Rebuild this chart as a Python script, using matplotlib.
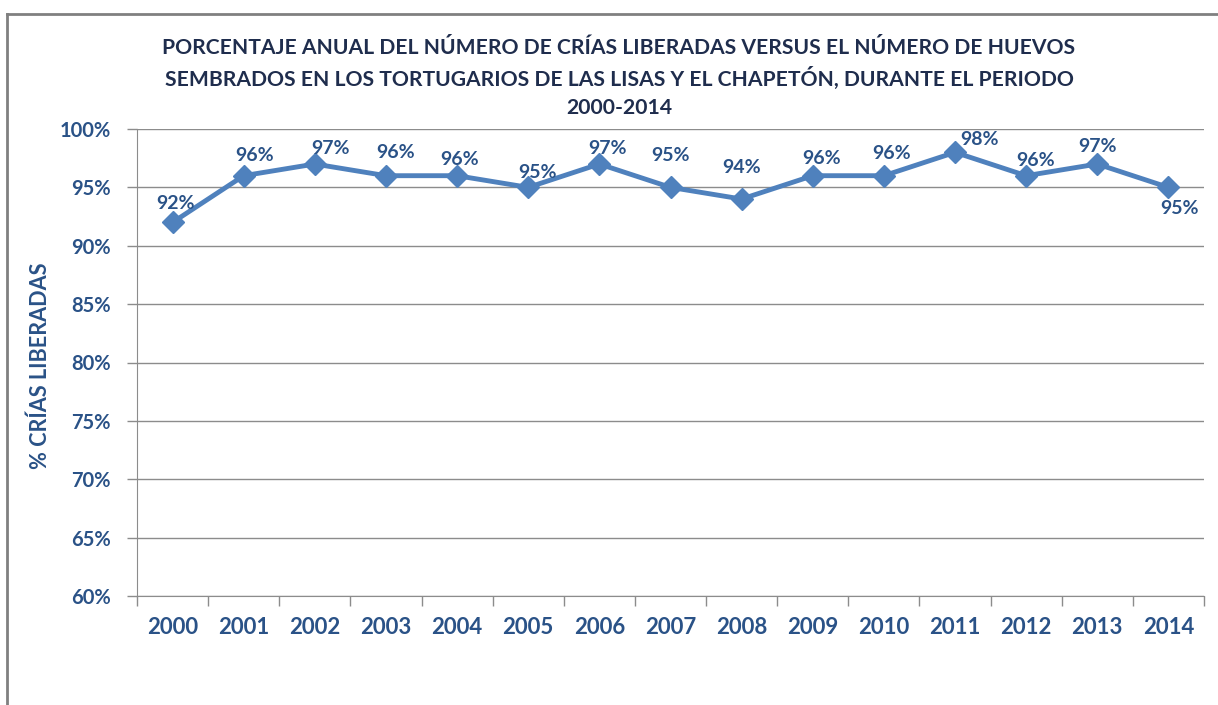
import matplotlib
matplotlib.use("Agg")
import matplotlib.pyplot as plt
from matplotlib.ticker import FuncFormatter, MultipleLocator, FixedLocator
from matplotlib.lines import Line2D

years = ["2000", "2001", "2002", "2003", "2004", "2005", "2006", "2007",
         "2008", "2009", "2010", "2011", "2012", "2013", "2014"]
pct = [92, 96, 97, 96, 96, 95, 97, 95, 94, 96, 96, 98, 96, 97, 95]

title_lines = ["PORCENTAJE ANUAL DEL NÚMERO DE CRÍAS LIBERADAS VERSUS EL NÚMERO DE HUEVOS",
               "SEMBRADOS EN LOS TORTUGARIOS DE LAS LISAS Y EL CHAPETÓN, DURANTE EL PERIODO",
               "2000-2014"]
ylabel = "% CRÍAS LIBERADAS"

# label offsets in pixels (dx, dy)
label_offsets = [(3, 19), (11, 20), (16, 16), (10, 23), (2, 16), (9, 15), (8, 16),
                 (0, 32), (0, 32), (9, 17), (8, 22), (24, 13), (9, 15), (0, 18), (11, -21)]

plt.rcParams['font.family'] = ['Lato', 'DejaVu Sans']
plt.rcParams['font.weight'] = 'bold'

LINE = "#4F81BD"
TXT = "#2A5287"
TITLE = "#1F2D4D"
GRID = "#8C8C8C"

fig = plt.figure(figsize=(12.18, 7.05), dpi=100)
ax = fig.add_axes([137/1218, 1 - 596/705, (1204 - 137)/1218, (596 - 129)/705])

x = list(range(len(years)))
ax.plot(x, pct, color=LINE, lw=3.5, marker="D", markersize=11,
        markerfacecolor=LINE, markeredgecolor=LINE, zorder=3, clip_on=False)

px_to_pt = 72 / 100
for xi, v, (dx, dy) in zip(x, pct, label_offsets):
    ax.annotate(f"{v}%", (xi, v), xytext=(dx * px_to_pt, dy * px_to_pt),
                textcoords="offset points", ha="center", va="center",
                fontsize=14, fontweight="bold", color=TXT, zorder=4)

ax.set_xlim(-0.5, len(years) - 0.5)
ax.set_ylim(60, 100)
ax.yaxis.set_major_locator(MultipleLocator(5))
ax.yaxis.set_major_formatter(FuncFormatter(lambda v, p: f"{v:.0f}%"))
ax.set_xticks(x)
ax.set_xticklabels(years)
ax.xaxis.set_minor_locator(FixedLocator([i - 0.5 for i in range(len(years) + 1)]))
ax.tick_params(axis="x", which="major", length=0, pad=15, labelsize=16, labelcolor=TXT)
ax.tick_params(axis="x", which="minor", length=7, width=1, color=GRID, direction="out")
ax.tick_params(axis="y", which="major", length=7, width=1, color=GRID, pad=12,
               labelsize=14.5, labelcolor=TXT)
for lab in ax.get_xticklabels() + ax.get_yticklabels():
    lab.set_fontweight("bold")

ax.grid(axis="y", color=GRID, lw=1)
ax.set_axisbelow(True)
for s in ["top", "right"]:
    ax.spines[s].set_visible(False)
ax.spines["left"].set_color(GRID)
ax.spines["bottom"].set_color(GRID)

fig.text(40/1218, 1 - 366/705, ylabel, rotation=90, ha="center", va="center",
         fontsize=15.6, fontweight="bold", color=TXT)
for i, line in enumerate(title_lines):
    fig.text(619/1218, 1 - (48 + 30 * i)/705, line, ha="center", va="center",
             fontsize=15.2, fontweight="bold", color=TITLE)

# outer chart border (top and left visible)
fig.add_artist(Line2D([7/1218, 7/1218], [0, 1 - 14/705], transform=fig.transFigure,
                      color="#808080", lw=2))
fig.add_artist(Line2D([7/1218, 1], [1 - 14/705, 1 - 14/705], transform=fig.transFigure,
                      color="#808080", lw=2))

fig.savefig("out.png", dpi=100)
